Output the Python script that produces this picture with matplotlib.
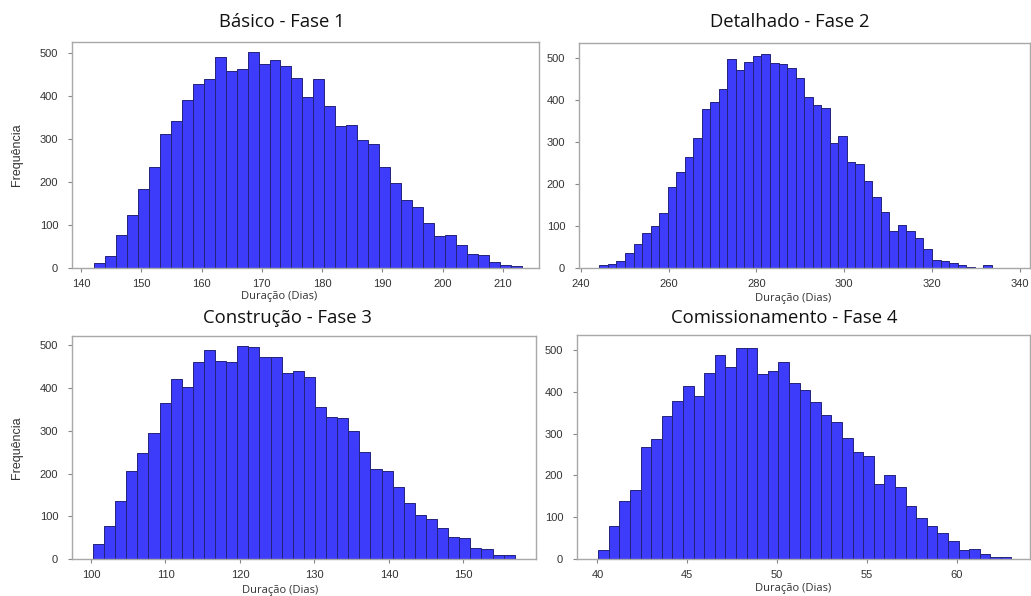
import matplotlib
matplotlib.use("Agg")
import matplotlib.pyplot as plt
import numpy as np

# ---------------- data ----------------
titles = ["Básico - Fase 1", "Detalhado - Fase 2", "Construção - Fase 3", "Comissionamento - Fase 4"]
xlabel_text = "Duração (Dias)"
ylabel_text = "Frequência"

# Fase 1
f1_start, f1_width = 142.16, 1.82
f1_counts = [12, 28, 76, 124, 184, 234, 313, 343, 390, 428, 441, 492, 458, 462, 502,
             475, 485, 470, 442, 397, 439, 377, 330, 333, 299, 288, 234, 198, 159, 142,
             105, 74, 76, 54, 32, 30, 13, 6, 5]
f1_xticks = [140, 150, 160, 170, 180, 190, 200, 210]

# Fase 2
f2_start, f2_width = 244.25, 1.942
f2_counts = [6, 9, 17, 35, 56, 83, 99, 131, 192, 229, 263, 310, 379, 394, 425, 498,
             470, 489, 503, 508, 487, 486, 476, 452, 406, 387, 380, 298, 313, 252, 248,
             206, 169, 132, 87, 103, 87, 72, 44, 20, 17, 13, 6, 3, 1, 7, 0, 1, 1]
f2_xticks = [240, 260, 280, 300, 320, 340]

# Fase 3
f3_start, f3_width = 100.27, 1.49
f3_counts = [36, 78, 135, 207, 249, 295, 364, 421, 402, 461, 490, 463, 461, 498, 496,
             472, 474, 436, 440, 425, 356, 333, 331, 299, 250, 211, 207, 169, 130, 103,
             94, 73, 51, 49, 25, 23, 9, 9]
f3_xticks = [100, 110, 120, 130, 140, 150]

# Fase 4
f4_start, f4_width = 40.04, 0.59
f4_counts = [21, 79, 138, 165, 267, 286, 343, 378, 413, 391, 446, 489, 460, 505, 505,
             443, 450, 472, 422, 404, 376, 345, 329, 289, 255, 247, 179, 201, 173, 126,
             97, 78, 63, 43, 21, 23, 12, 5, 5, 1]
f4_xticks = [40, 45, 50, 55, 60]

yticks = [0, 100, 200, 300, 400, 500]

# ---------------- layout ----------------
W, H = 1031, 596
fig = plt.figure(figsize=(W / 100, H / 100), dpi=100)

panels = [
    dict(box=(72, 42, 539, 268), xlim=(138.5, 216.0), ytop=526,
         start=f1_start, width=f1_width, counts=f1_counts, xticks=f1_xticks,
         title_xy=(282, 22), xlab_xy=(279, 297), ylabel=True),
    dict(box=(579, 43, 1030, 268), xlim=(239.6, 342.3), ytop=535,
         start=f2_start, width=f2_width, counts=f2_counts, xticks=f2_xticks,
         title_xy=(790, 22), xlab_xy=(793, 298), ylabel=False),
    dict(box=(72, 336, 536, 559), xlim=(97.45, 159.75), ytop=522,
         start=f3_start, width=f3_width, counts=f3_counts, xticks=f3_xticks,
         title_xy=(287, 318), xlab_xy=(280, 590), ylabel=True),
    dict(box=(577, 335, 1030, 559), xlim=(38.86, 64.08), ytop=536,
         start=f4_start, width=f4_width, counts=f4_counts, xticks=f4_xticks,
         title_xy=(784, 318), xlab_xy=(793, 589), ylabel=False),
]

face = "#3c3cfa"
edge = "#23237a"
frame = "#a8a8a8"
tick_font = "Liberation Sans"
title_font = "Open Sans"

for i, p in enumerate(panels):
    l, t, r, b = p["box"]
    ax = fig.add_axes([l / W, 1 - b / H, (r - l) / W, (b - t) / H])
    counts = np.array(p["counts"], dtype=float)
    edges = p["start"] + p["width"] * np.arange(len(counts))
    ax.bar(edges, counts, width=p["width"], align="edge",
           facecolor=face, edgecolor=edge, linewidth=0.7)
    ax.set_xlim(*p["xlim"])
    ax.set_ylim(0, p["ytop"])
    ax.set_xticks(p["xticks"])
    ax.set_yticks(yticks)
    for s in ax.spines.values():
        s.set_color(frame)
        s.set_linewidth(1.0)
    ax.tick_params(axis="both", colors="#888888", length=3, width=0.8,
                   labelcolor="#333333", labelsize=8)
    ax.tick_params(axis="x", pad=5)
    ax.tick_params(axis="y", pad=7)
    for lab in ax.get_xticklabels() + ax.get_yticklabels():
        lab.set_fontfamily(tick_font)
    tx, ty = p["title_xy"]
    fig.text(tx / W, 1 - ty / H, titles[i], ha="center", va="center",
             fontsize=13.3, family=title_font, color="#111111")
    xx, xy = p["xlab_xy"]
    fig.text(xx / W, 1 - xy / H, xlabel_text, ha="center", va="center",
             fontsize=8, family=title_font, color="#333333")
    if p["ylabel"]:
        fig.text(17 / W, 1 - ((t + b) / 2) / H, ylabel_text, ha="center", va="center",
                 rotation=90, fontsize=9, family=tick_font, color="#333333")

fig.savefig("out.png", dpi=100, facecolor="white")
